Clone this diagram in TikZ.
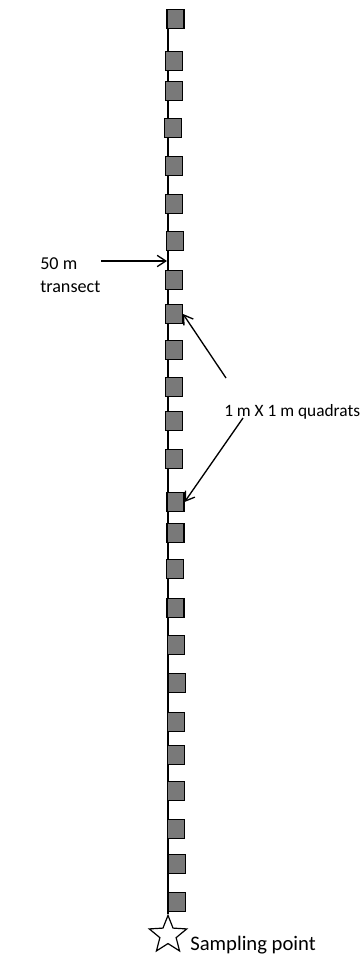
\documentclass[tikz,border=0pt]{standalone}
\usepackage{fontspec}
\setmainfont{Carlito}
\usetikzlibrary{arrows.meta,shapes.geometric}
\begin{document}
\begin{tikzpicture}[x=0.75pt,y=-0.75pt,
  quad/.style={draw=black, fill=gray!95!black, line width=1.1pt, inner sep=0pt, minimum width=12.5pt, minimum height=14.25pt},
  lbl/.style={anchor=base west, inner sep=0pt, font=\fontsize{13}{15}\selectfont},
  pointer/.style={line width=1pt, -{Straight Barb[length=6.5pt,width=8.5pt,line width=1pt]}},
  transectline/.style={line width=1.1pt}]
\useasboundingbox (0,0) rectangle (361,956);
\coordinate (top) at (168,19);
\node[star, star points=5, star point ratio=2.3, draw=black, line width=0.9pt, minimum size=29.5pt, inner sep=0pt] (sp) at (168,935) {};
\draw[transectline] (top) -- (sp.north);
\foreach \i/\xc/\yc in {1/175.5/19, 2/174/61, 3/174/91, 4/173/128, 5/174/166, 6/174/204, 7/175/241, 8/174/280, 9/174/314, 10/174/350, 11/174/387, 12/174/421, 13/174/459, 14/175.5/502, 15/175.5/533, 16/175/569, 17/175.5/608, 18/176/645, 19/177/683, 20/176/722, 21/176/755, 22/176/791, 23/176/829, 24/177/864, 25/177/902}
  \node[quad] (q\i) at (\xc,\yc) {};
\node[lbl, font=\fontsize{13.6}{15}\selectfont] (l50) at (40,269) {50 m};
\node[lbl, font=\fontsize{13.6}{15}\selectfont] (ltr) at (40,292) {transect};
\node[lbl] (lq) at (224,416) {1 m X 1 m quadrats};
\node[lbl, font=\fontsize{15.5}{18}\selectfont] (ls) at (190,950) {Sampling point};
\coordinate (a1s) at (101,261);
\coordinate (a1e) at (167,261);
\draw[pointer] (a1s) -- (a1e);
\coordinate (a2s) at (226,378);
\draw[pointer] (a2s) -- (q9.east);
\coordinate (a3s) at (243,418);
\draw[pointer] (a3s) -- (q14.east);
\end{tikzpicture}
\end{document}
